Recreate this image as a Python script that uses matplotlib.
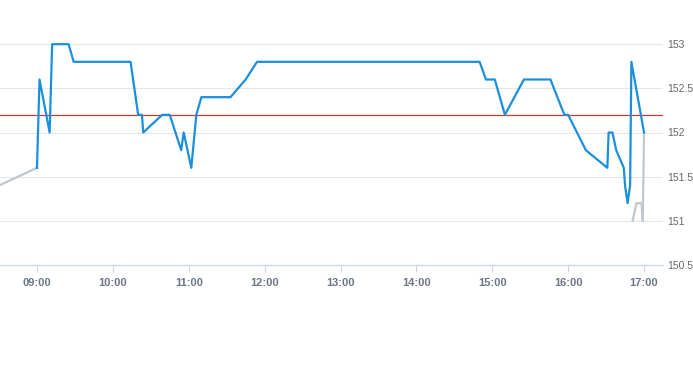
import matplotlib
matplotlib.use("Agg")
import matplotlib.pyplot as plt
from matplotlib.ticker import FuncFormatter, FixedLocator

# Intraday price (blue)
price_times = ["09:00", "09:02", "09:10", "09:12", "09:25", "09:29", "10:14", "10:20",
               "10:23", "10:24", "10:39", "10:45", "10:54", "10:56", "11:02", "11:06",
               "11:10", "11:33", "11:45", "11:54", "14:50", "14:55", "15:02", "15:10",
               "15:25", "15:46", "15:57", "16:00", "16:14", "16:31", "16:32", "16:35",
               "16:38", "16:44", "16:45", "16:47", "16:49", "16:50", "17:00"]
price_vals = [151.6, 152.6, 152.0, 153.0, 153.0, 152.8, 152.8, 152.2,
              152.2, 152.0, 152.2, 152.2, 151.8, 152.0, 151.6, 152.2,
              152.4, 152.4, 152.6, 152.8, 152.8, 152.6, 152.6, 152.2,
              152.6, 152.6, 152.2, 152.2, 151.8, 151.6, 152.0, 152.0,
              151.8, 151.6, 151.4, 151.2, 151.4, 152.8, 152.0]

# Secondary series (grey)
grey_times = ["08:30", "09:00"]
grey_vals = [151.4, 151.6]
grey2_times = ["16:51", "16:54", "16:58", "16:59", "17:00"]
grey2_vals = [151.0, 151.2, 151.2, 151.0, 152.0]

ref_level = 152.2
y_ticks = [150.5, 151, 151.5, 152, 152.5, 153]
x_tick_labels = ["09:00", "10:00", "11:00", "12:00", "13:00", "14:00", "15:00", "16:00", "17:00"]


def hrs(t):
    h, m = t.split(":")
    return int(h) + int(m) / 60.0


plt.rcParams["font.family"] = ["Liberation Sans", "DejaVu Sans"]

fig = plt.figure(figsize=(6.93, 3.65), dpi=100)
ax = fig.add_axes([0, 1 - 265 / 365, 663 / 693, 265 / 365])

ax.plot([hrs(t) for t in grey_times], grey_vals, color="#bfc7d1", lw=1.6, zorder=2)
ax.plot([hrs(t) for t in grey2_times], grey2_vals, color="#bfc7d1", lw=1.6, zorder=2)
ax.plot([hrs(t) for t in price_times], price_vals, color="#1b8fdc", lw=1.6, zorder=3)
ax.axhline(ref_level, color="#d0392e", lw=0.9, zorder=2.5)

ax.set_xlim(8.5125, 17.25)
ax.set_ylim(150.5, 153.5)

ax.yaxis.set_major_locator(FixedLocator(y_ticks))
ax.yaxis.set_major_formatter(FuncFormatter(lambda v, p: f"{v:g}"))
ax.yaxis.tick_right()
ax.tick_params(axis="y", length=0, pad=3, labelsize=7.5, labelcolor="#666666")

xt = [hrs(t) for t in x_tick_labels]
ax.set_xticks(xt)
ax.set_xticklabels(x_tick_labels)
ax.tick_params(axis="x", length=5, width=0.8, color="#ccd6eb", pad=4, labelsize=8, labelcolor="#6b7788")
for lbl in ax.get_xticklabels():
    lbl.set_fontweight("bold")

ax.grid(axis="y", color="#e6e6e6", lw=0.8)
ax.set_axisbelow(True)
for s in ["top", "left", "right"]:
    ax.spines[s].set_visible(False)
ax.spines["bottom"].set_color("#ccd6eb")
ax.spines["bottom"].set_linewidth(0.9)

fig.savefig("out.png", dpi=100)
